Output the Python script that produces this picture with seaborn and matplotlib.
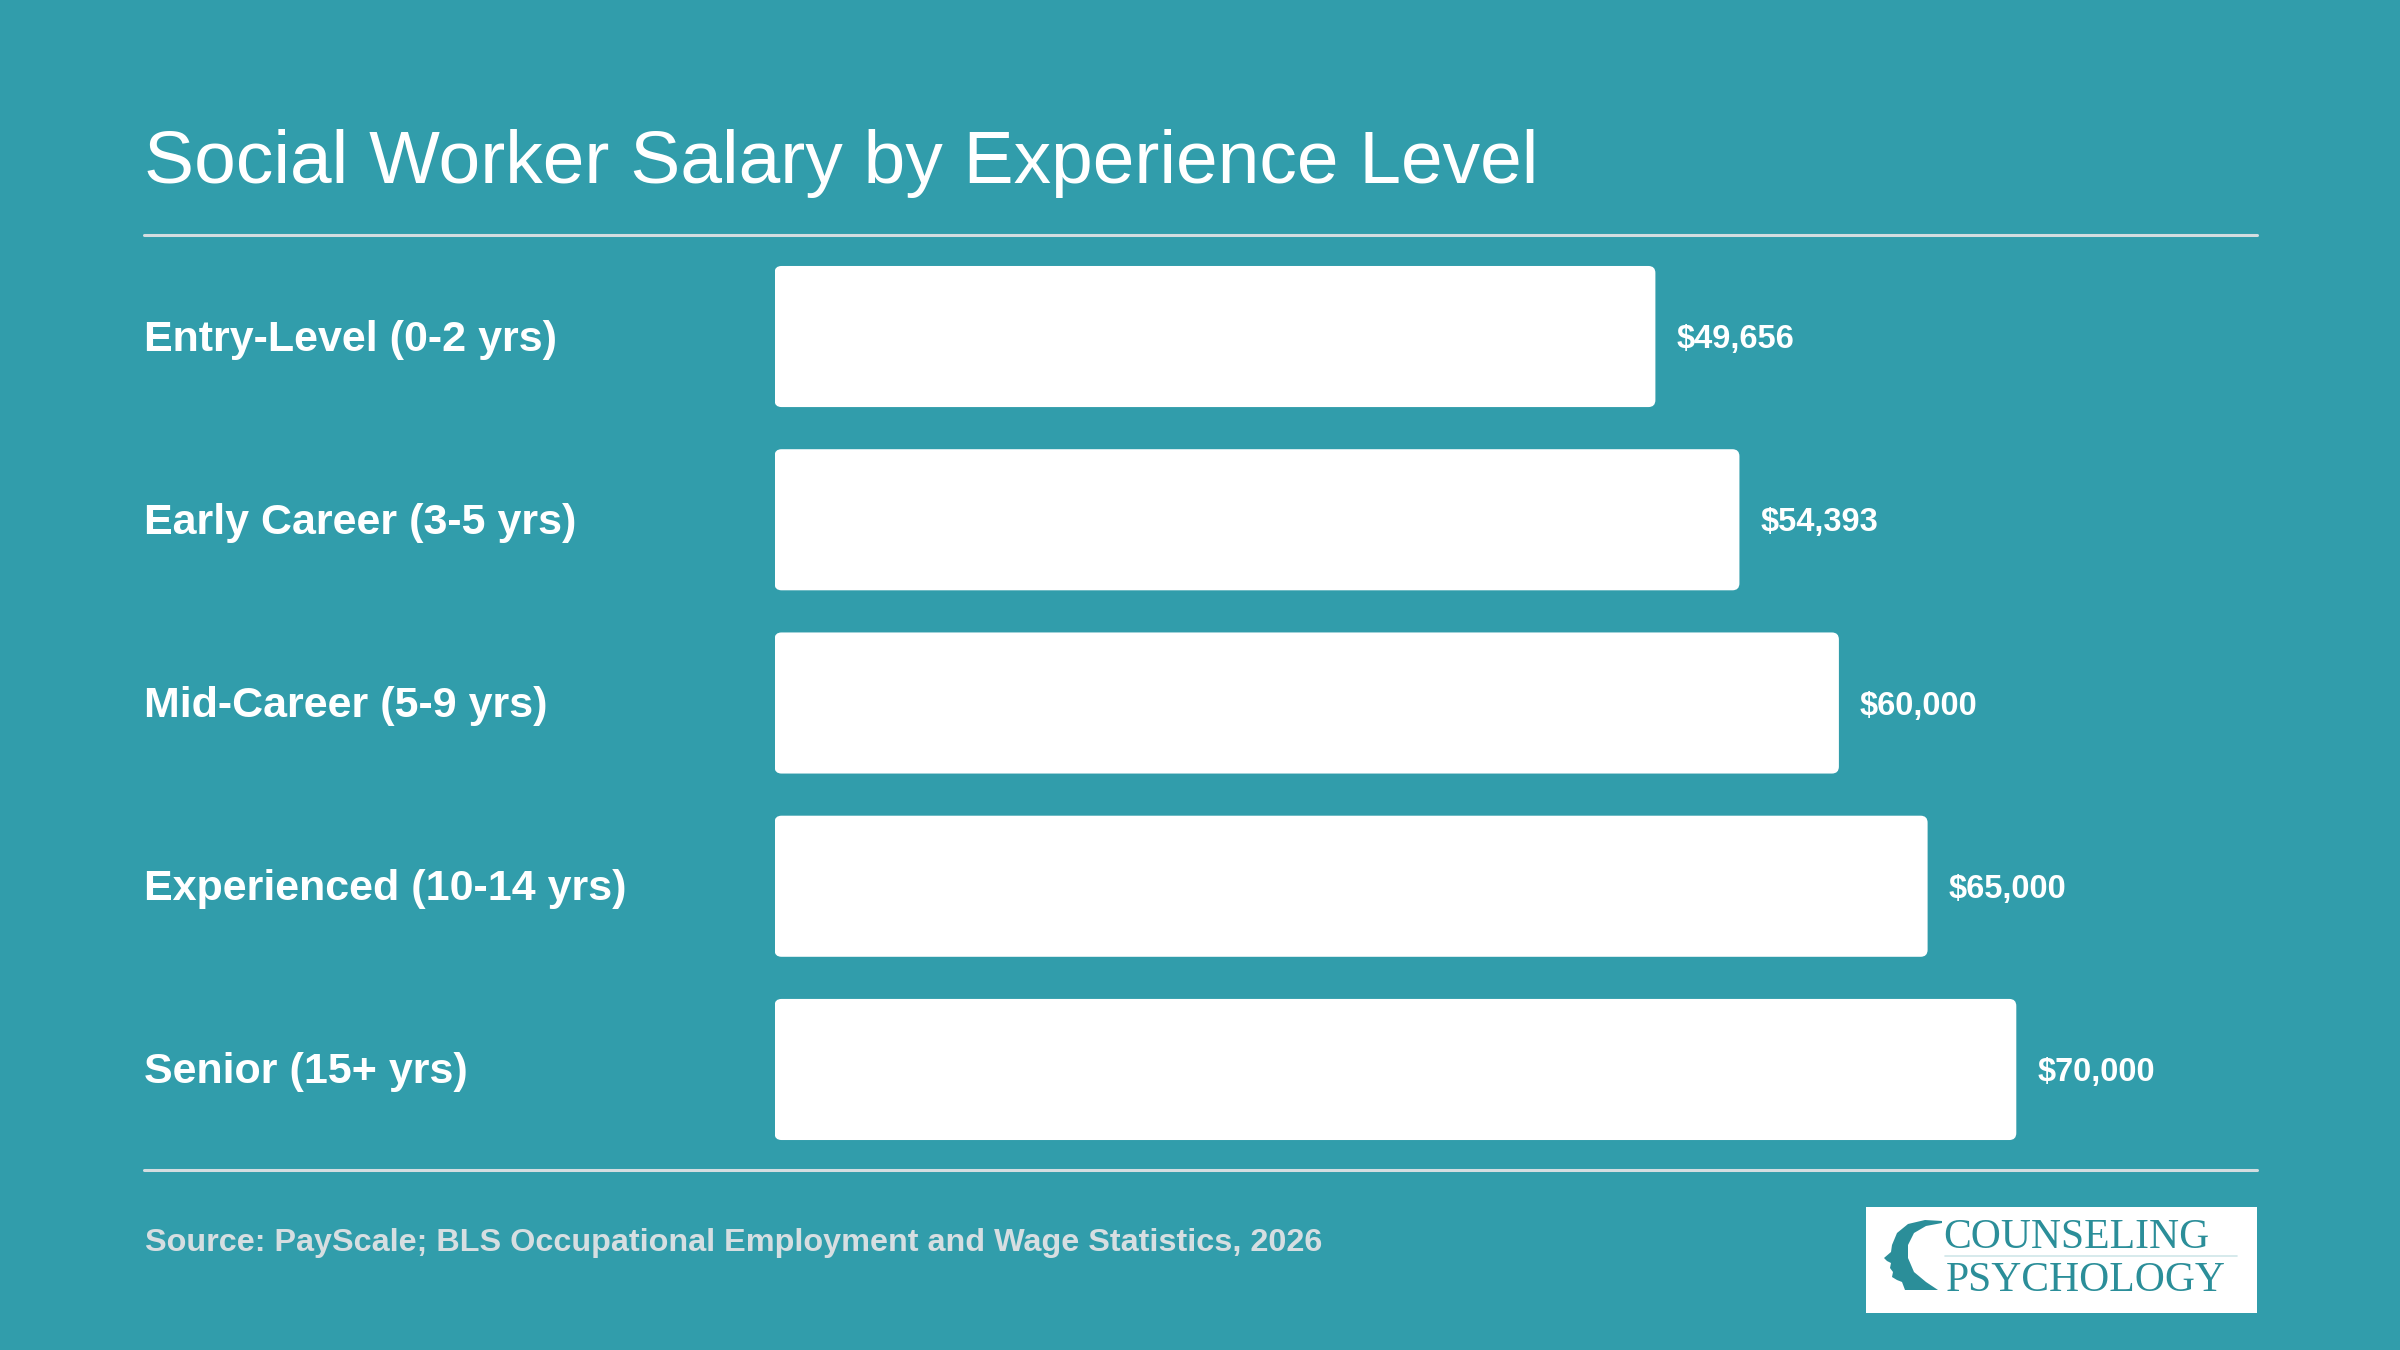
import matplotlib
matplotlib.use("Agg")
import matplotlib.pyplot as plt
import seaborn as sns
import pandas as pd
from matplotlib.patches import FancyBboxPatch, Rectangle, Polygon
from matplotlib.lines import Line2D
import matplotlib.transforms as mtransforms

# ---- data ----
levels = ["Entry-Level (0-2 yrs)", "Early Career (3-5 yrs)", "Mid-Career (5-9 yrs)",
          "Experienced (10-14 yrs)", "Senior (15+ yrs)"]
salaries = [49656, 54393, 60000, 65000, 70000]
value_labels = ["$49,656", "$54,393", "$60,000", "$65,000", "$70,000"]
title = "Social Worker Salary by Experience Level"
source = "Source: PayScale; BLS Occupational Employment and Wage Statistics, 2026"

BG = "#319DAB"
RULE = "#D3DDE0"
SRC = "#D6DEE1"
LOGO = "#2B8E99"

sns.set_theme(style="white")
plt.rcParams["font.family"] = ["Liberation Sans", "DejaVu Sans"]

W, H = 2400, 1350
fig = plt.figure(figsize=(24, 13.5), dpi=100, facecolor=BG)

ax_left, ax_right = 774.5, 2257
ax_top, ax_bot = 244.9, 1161.1
ax = fig.add_axes([ax_left / W, 1 - ax_bot / H, (ax_right - ax_left) / W, (ax_bot - ax_top) / H])
ax.set_facecolor("none")

df = pd.DataFrame({"level": levels, "salary": salaries})
sns.barplot(data=df, x="salary", y="level", orient="h", color="white",
            width=0.77, saturation=1, ax=ax)
ax.set_xlim(0, (ax_right - ax_left) / 0.01774)
ax.set_ylim(4.5, -0.5)

# px -> data conversions for rounded corners
x_per_px = ax.get_xlim()[1] / (ax_right - ax_left)
y_per_px = 5.0 / (ax_bot - ax_top)
radius_px = 7
for p in list(ax.patches):
    x0, y0, w, h = p.get_x(), p.get_y(), p.get_width(), p.get_height()
    p.remove()
    fb = FancyBboxPatch((x0, y0), w, h,
                        boxstyle=f"round,pad=0,rounding_size={radius_px * x_per_px}",
                        mutation_aspect=y_per_px / x_per_px,
                        facecolor="white", edgecolor="none")
    ax.add_patch(fb)

for i, (v, lab) in enumerate(zip(salaries, value_labels)):
    ax.annotate(lab, xy=(v, i), xytext=(15.2, -2.2), textcoords="offset points",
                ha="left", va="center", color="white", fontsize=23.5, fontweight="bold")

trans = mtransforms.blended_transform_factory(fig.transFigure, ax.transData)
for i, lab in enumerate(levels):
    ax.text(144 / W, i + 3 * y_per_px, lab, transform=trans, ha="left", va="center",
            color="white", fontsize=31, fontweight="bold")

ax.set_xlabel("")
ax.set_ylabel("")
ax.set_xticks([])
ax.set_yticks([])
for s in ax.spines.values():
    s.set_visible(False)

# title
fig.text(144 / W, 1 - 183 / H, title, ha="left", va="baseline", color="white", fontsize=54)

# rules
for yy in (235, 1170):
    fig.add_artist(Line2D([144 / W, 2257 / W], [1 - yy / H, 1 - yy / H],
                          color=RULE, lw=2.2, transform=fig.transFigure))

# source
fig.text(145 / W, 1 - 1251 / H, source, ha="left", va="baseline", color=SRC,
         fontsize=23.3, fontweight="bold")

# logo
fig.add_artist(Rectangle((1866 / W, 1 - 1313 / H), (2257 - 1866) / W, (1313 - 1207) / H,
                         transform=fig.transFigure, facecolor="white", edgecolor="none"))
fig.text(1943 / W, 1 - 1248 / H, "COUNSELING", ha="left", va="baseline", color=LOGO,
         fontsize=30, family=["Liberation Serif", "DejaVu Serif"])
fig.text(1946 / W, 1 - 1291 / H, "PSYCHOLOGY", ha="left", va="baseline", color=LOGO,
         fontsize=30, family=["Liberation Serif", "DejaVu Serif"])
fig.add_artist(Line2D([1945 / W, 2237 / W], [1 - 1256 / H, 1 - 1256 / H],
                      color="#CFE6E9", lw=1.2, transform=fig.transFigure))
head_px = [(1942, 1221), (1925, 1220), (1908, 1224), (1897, 1233), (1892, 1245),
           (1891, 1252), (1884, 1258), (1887, 1261), (1891, 1263), (1890, 1268),
           (1893, 1272), (1892, 1277), (1897, 1280), (1902, 1282), (1905, 1290),
           (1938, 1290), (1926, 1282), (1914, 1272), (1908, 1258), (1908, 1245),
           (1914, 1233), (1926, 1226), (1942, 1223)]
fig.add_artist(Polygon([(x / W, 1 - y / H) for x, y in head_px], closed=True,
                       transform=fig.transFigure, facecolor=LOGO, edgecolor="none"))

fig.savefig("out.png", dpi=100, facecolor=BG)
